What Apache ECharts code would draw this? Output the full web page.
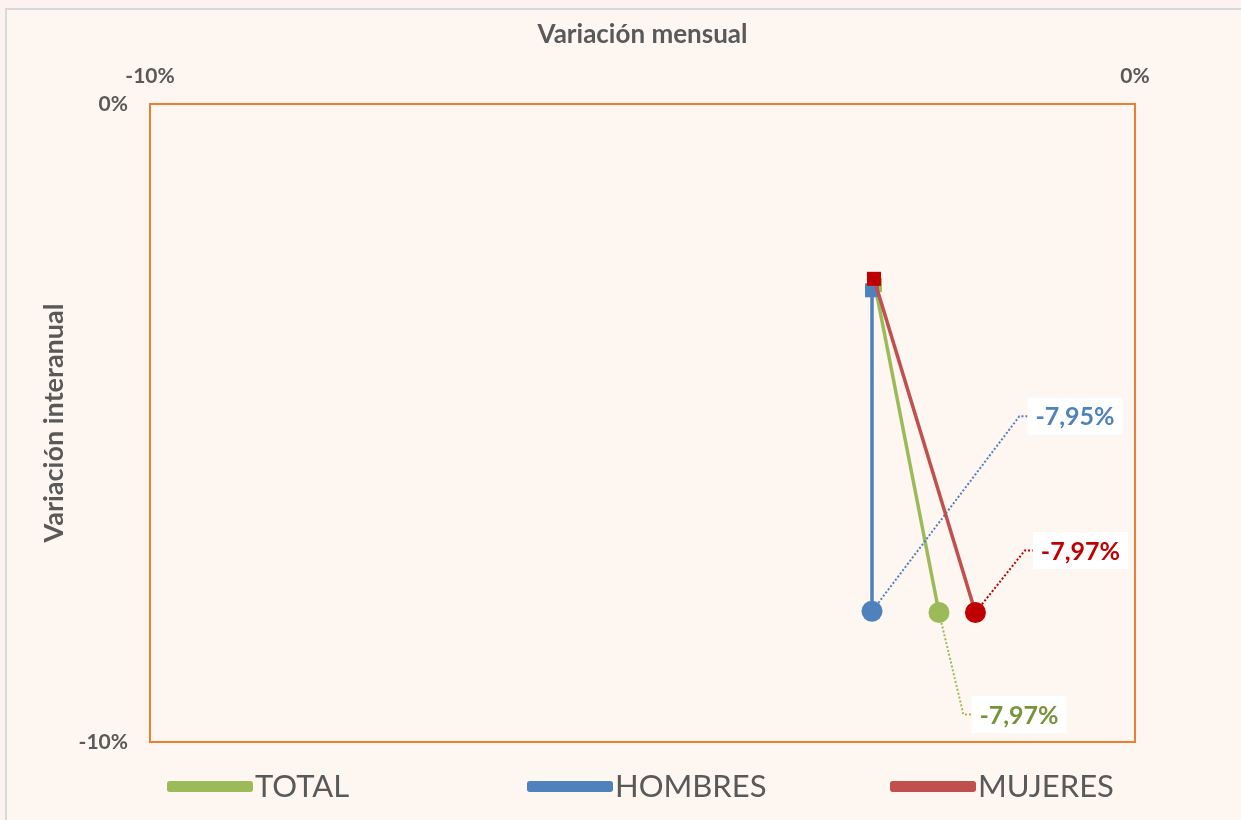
<!DOCTYPE html>
<html>
<head>
<meta charset="utf-8">
<script src="https://cdn.jsdelivr.net/npm/echarts@6/dist/echarts.min.js"></script>
<style>
  html, body { margin: 0; padding: 0; background: #fcf2ef; overflow: hidden; }
  #frame {
    position: absolute; left: 5px; top: 8px;
    width: 1300px; height: 900px;
    background: #fef6f1;
    border: 2px solid #d9d9d9;
  }
  #chart { position: absolute; left: 0; top: 0; width: 1241px; height: 820px; }
</style>
</head>
<body>
<div id="frame"></div>
<div id="chart"></div>
<script>
// series names and colours
const names = ['TOTAL', 'HOMBRES', 'MUJERES']
const colors = ['#9bbb59', '#4f81bd', '#c0504d']
const labelColors = ['#77933c', '#4f81bd', '#c00000']
const endColors = ['#9bbb59', '#4f81bd', '#c00000']
const startColors = ['#9bbb59', '#4f81bd', '#c00000']
// start point (mes anterior) -> end point (mes actual), [mensual, interanual]
const startX = [-2.64, -2.67, -2.65]
const startY = [-2.84, -2.92, -2.74]
const endX = [-1.99, -2.67, -1.62]
const endY = [-7.97, -7.95, -7.97]
// axis ticks
const axisMin = -10
const axisMax = 0
// label offsets from the end point
const labelOffsets = [[80, 136], [203, -161], [105, -28]]
const legendLefts = [167, 527, 890]

const fmt = (v) => String(v.toFixed(2)).replace('.', ',') + '%'

let mycharts = echarts.init(document.getElementById('chart'))

const series = names.map((name, i) => ({
  name: name,
  type: 'line',
  color: colors[i],
  z: 2 + i,
  lineStyle: { width: 3.5, color: colors[i] },
  labelLine: {
    show: true,
    length2: 8,
    lineStyle: { type: 'dotted', width: 2, color: endColors[i] },
  },
  labelLayout: (params) => ({ dx: labelOffsets[i][0], dy: labelOffsets[i][1] }),
  data: [
    {
      value: [startX[i], startY[i]],
      symbol: 'rect',
      symbolSize: 14,
      itemStyle: { color: startColors[i] },
      label: { show: false },
    },
    {
      value: [endX[i], endY[i]],
      symbol: 'circle',
      symbolSize: 21,
      itemStyle: { color: endColors[i] },
      label: {
        show: true,
        formatter: (p) => fmt(p.value[1]),
        color: labelColors[i],
        fontFamily: 'Lato',
        fontWeight: 'bold',
        fontSize: 25,
        backgroundColor: '#ffffff',
        padding: [7, 8, 5, 8],
      },
    },
  ],
}))

var option = {
  animation: false,
  textStyle: { fontFamily: 'Lato' },
  grid: {
    left: 150,
    right: 106,
    top: 104,
    bottom: 78,
    show: true,
    borderColor: '#ed7d31',
    borderWidth: 2,
  },
  xAxis: {
    type: 'value',
    position: 'top',
    min: axisMin,
    max: axisMax,
    interval: 10,
    name: 'Variación mensual',
    nameLocation: 'middle',
    nameGap: 56,
    nameTextStyle: { color: '#595959', fontSize: 26, fontWeight: 'bold', fontFamily: 'Lato' },
    axisLine: { show: false },
    axisTick: { show: false },
    splitLine: { show: false },
    axisLabel: {
      margin: 17,
      color: '#595959',
      fontSize: 21,
      fontWeight: 'bold',
      formatter: (v) => v + '%',
    },
  },
  yAxis: {
    type: 'value',
    min: axisMin,
    max: axisMax,
    interval: 10,
    name: 'Variación interanual',
    nameLocation: 'middle',
    nameGap: 82,
    nameRotate: 90,
    nameTextStyle: { color: '#595959', fontSize: 27, fontWeight: 'bold', fontFamily: 'Lato' },
    axisLine: { show: false },
    axisTick: { show: false },
    splitLine: { show: false },
    axisLabel: {
      margin: 22,
      color: '#595959',
      fontSize: 21,
      fontWeight: 'bold',
      formatter: (v) => v + '%',
    },
  },
  legend: names.map((name, i) => ({
    data: [name],
    left: legendLefts[i],
    top: 771,
    icon: 'roundRect',
    itemWidth: 86,
    itemHeight: 11,
    itemGap: 0,
    padding: 0,
    selectedMode: false,
    textStyle: { color: '#595959', fontSize: 31, fontFamily: 'Lato', padding: [0, 0, 0, -3] },
  })),
  series: series,
}

mycharts.setOption(option)
</script>
</body>
</html>
